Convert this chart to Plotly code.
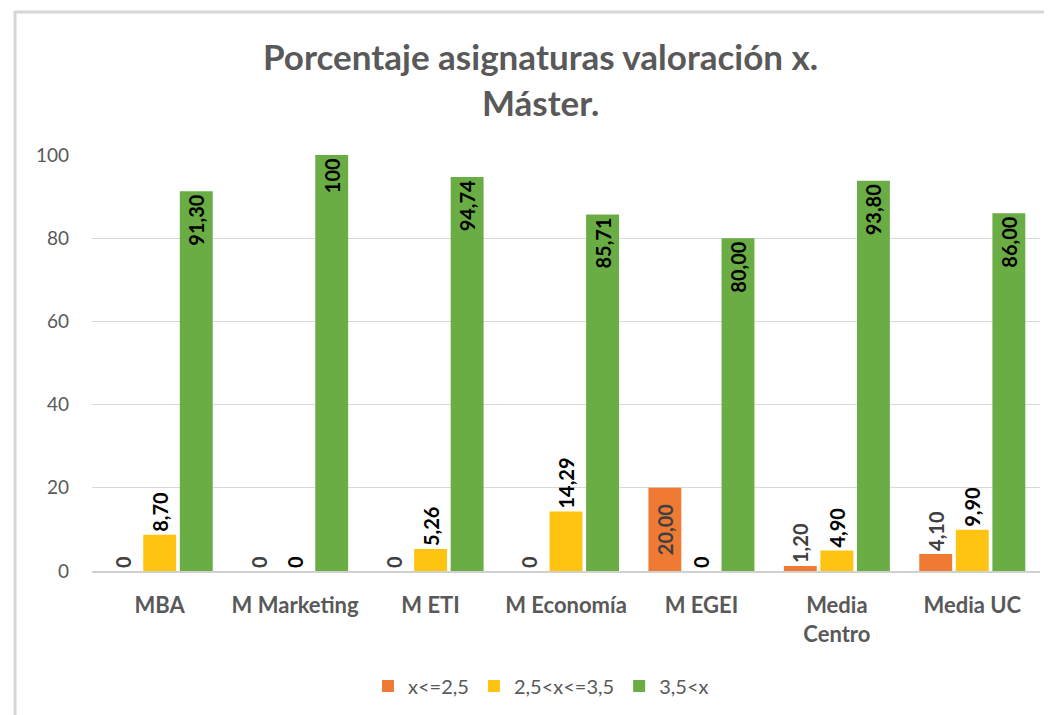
import plotly.graph_objects as go

categories = ["MBA", "M Marketing", "M ETI", "M Economía", "M EGEI", "Media Centro", "Media UC"]
category_ticktext = ["MBA", "M Marketing", "M ETI", "M Economía", "M EGEI", "Media<br>Centro", "Media UC"]

series_names = ["x<=2,5", "2,5<x<=3,5", "3,5<x"]
low_values = [0, 0, 0, 0, 20.00, 1.20, 4.10]
mid_values = [8.70, 0, 5.26, 14.29, 0, 4.90, 9.90]
high_values = [91.30, 100, 94.74, 85.71, 80.00, 93.80, 86.00]

low_labels = ["0", "0", "0", "0", "20,00", "1,20", "4,10"]
mid_labels = ["8,70", "0", "5,26", "14,29", "0", "4,90", "9,90"]
high_labels = ["91,30", "100", "94,74", "85,71", "80,00", "93,80", "86,00"]

y_ticks = [0, 20, 40, 60, 80, 100]

FONT = "Lato"
GRAY = "#595959"

# page body has an 8px margin; work in reference pixel coords minus that offset
OFF = 8
W, H = 1052 - OFF, 715 - OFF

fig = go.Figure()

fig.add_trace(go.Bar(
    x=categories, y=low_values, name=series_names[0],
    marker=dict(color="#EE7A33", line=dict(width=0)),
    text=low_labels,
    textposition=["outside", "outside", "outside", "outside", "inside", "outside", "outside"],
    insidetextanchor="middle",
    textangle=-90, constraintext="none",
    textfont=dict(family=FONT, size=20, color="#404040", weight="bold"),
    cliponaxis=False,
))
fig.add_trace(go.Bar(
    x=categories, y=mid_values, name=series_names[1],
    marker=dict(color="#FFC312", line=dict(width=0)),
    text=mid_labels, textposition="outside",
    textangle=-90, constraintext="none",
    textfont=dict(family=FONT, size=20, color="#000000", weight="bold"),
    cliponaxis=False,
))
fig.add_trace(go.Bar(
    x=categories, y=high_values, name=series_names[2],
    marker=dict(color="#6AAD44", line=dict(width=0)),
    text=high_labels, textposition="inside", insidetextanchor="end",
    textangle=-90, constraintext="none",
    textfont=dict(family=FONT, size=20, color="#000000", weight="bold"),
    cliponaxis=False,
))

# reference pixel coords of plot area
PL, PR, PT, PB = 92, 1040, 155, 571
L = PL - OFF
T = PT - OFF
R = W - (PR - OFF)
B = H - (PB - OFF)
pw = W - L - R
ph = H - T - B

def px_x(p):
    return (p - OFF - L) / pw

def px_y(p):
    return (H - B - (p - OFF)) / ph

fig.update_layout(
    width=W, height=H,
    margin=dict(l=L, r=R, t=T, b=B, autoexpand=False),
    paper_bgcolor="white", plot_bgcolor="white",
    barmode="group", bargap=0.19, bargroupgap=0.1,
    font=dict(family=FONT, color=GRAY),
    showlegend=True,
    legend=dict(
        orientation="h", x=(541 - OFF) / W, xanchor="center", xref="container",
        y=1 - (686 - OFF) / H, yanchor="middle", yref="container",
        font=dict(family=FONT, size=20, color=GRAY),
        itemwidth=30, traceorder="normal",
    ),
    xaxis=dict(
        tickmode="array", tickvals=categories, ticktext=category_ticktext,
        tickfont=dict(family=FONT, size=22, color=GRAY, weight="bold"),
        showgrid=False, showline=True, linecolor="#d0d0d0", linewidth=2,
        ticks="", ticklabelstandoff=14,
    ),
    yaxis=dict(
        range=[0, 100], tickvals=y_ticks,
        tickfont=dict(family=FONT, size=19, color=GRAY),
        showgrid=True, gridcolor="#d9d9d9", gridwidth=1,
        zeroline=False, showline=False, ticks="", ticklabelstandoff=22,
    ),
    annotations=[
        dict(
            text="<b>Porcentaje asignaturas valoración x.<br>Máster.</b>",
            xref="paper", yref="paper", x=px_x(540), y=px_y(79),
            xanchor="center", yanchor="middle", showarrow=False,
            font=dict(family=FONT, size=35, color=GRAY),
        ),
    ],
    shapes=[
        dict(type="rect", xref="paper", yref="paper", layer="above",
             x0=px_x(15), x1=px_x(1070), y0=px_y(12), y1=px_y(740),
             fillcolor="rgba(0,0,0,0)",
             line=dict(color="#d6d6d6", width=3)),
    ],
)

fig.write_html("out.html")
